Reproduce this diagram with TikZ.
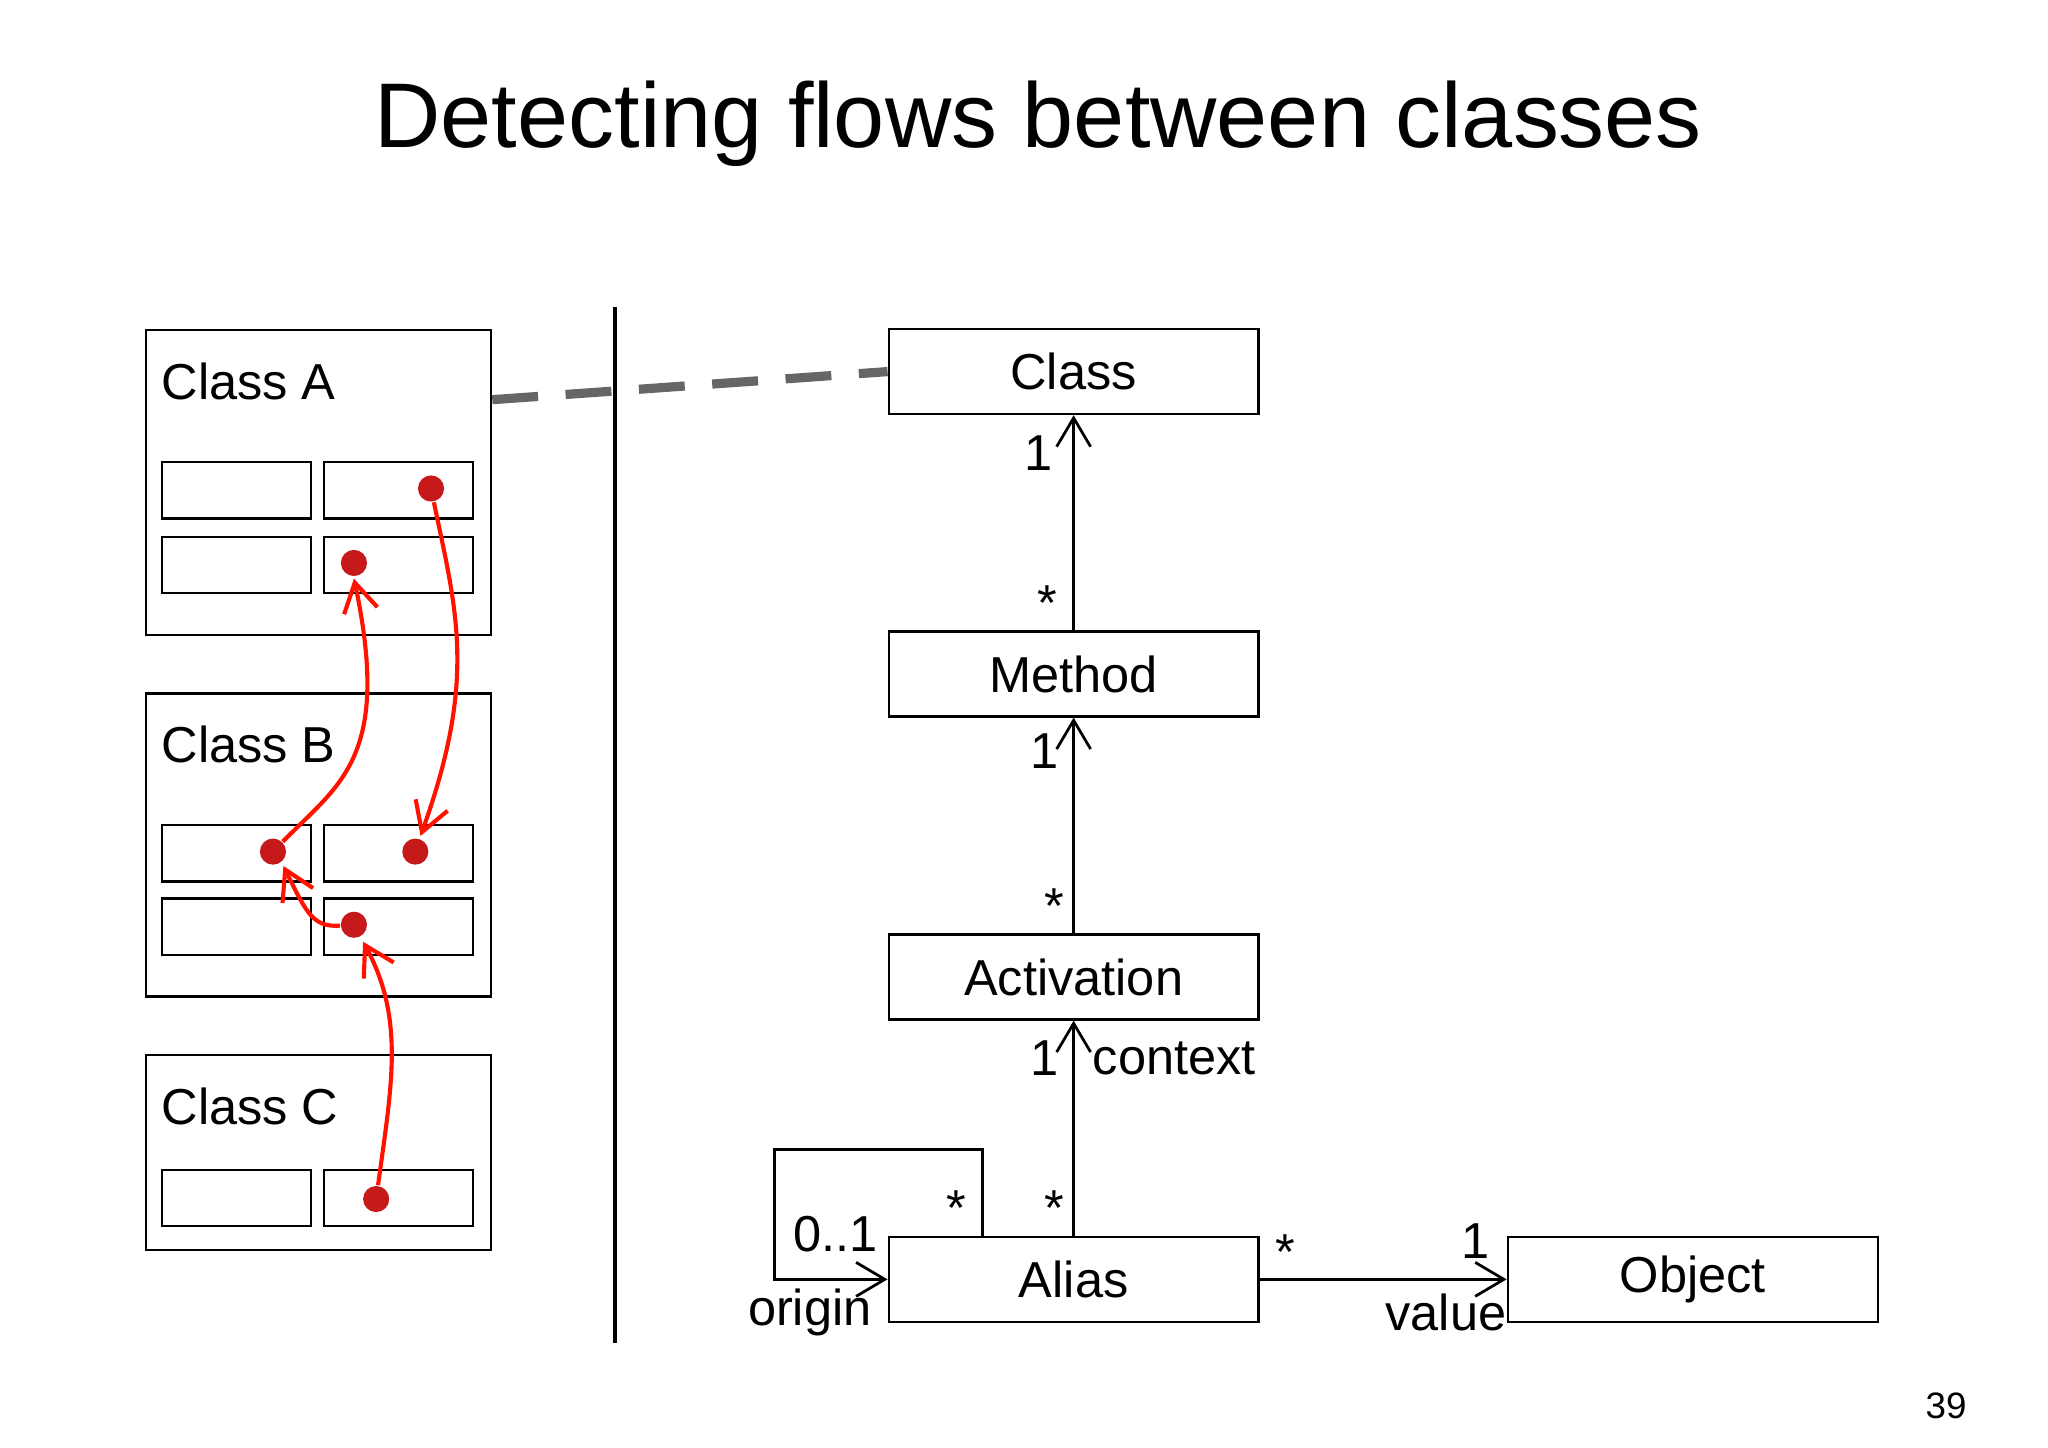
\documentclass[tikz,border=0pt]{standalone}
\usepackage{fontspec}
\setmainfont{Liberation Sans}
\usetikzlibrary{arrows.meta}

\begin{document}
\begin{tikzpicture}[x=0.01cm,y=-0.01cm,font=\fontsize{11}{13}\selectfont]
        % Setup the styles
        \tikzset{cls box/.style={draw, line width=0.5pt, anchor=north west, inner sep=0pt},
                 slot/.style={draw, line width=0.5pt, anchor=north west, inner sep=0pt,
                              minimum width=1.14cm, minimum height=0.43cm},
                 uml/.style={draw, line width=0.5pt, minimum width=2.83cm,
                             minimum height=0.65cm, inner sep=0pt},
                 dot/.style={circle, fill=red!75!black!90, inner sep=0pt, minimum size=0.2cm},
                 flow/.style={draw=red!85!orange, line width=0.9pt,
                              -{Straight Barb[length=2.2mm,width=2.6mm]}},
                 assoc/.style={line width=0.6pt, -{Straight Barb[length=2.2mm,width=2.6mm]}},
                 lbl/.style={inner sep=0pt}}
        \useasboundingbox (0,0) rectangle (1568,1108);

        % Title and page number
        \node[lbl] (title) at (795,95) {\fontsize{20}{24}\selectfont Detecting flows between classes};
        \node[lbl] (page) at (1490,1076) {\fontsize{8}{10}\selectfont 39};

        % Classes on the left
        \node[cls box, minimum width=2.64cm, minimum height=2.33cm] (ca) at (111,252) {};
        \node[cls box, minimum width=2.64cm, minimum height=2.32cm] (cb) at (111,530) {};
        \node[cls box, minimum width=2.64cm, minimum height=1.49cm] (cc) at (111,807) {};
        \node[lbl, anchor=west] (ca label) at (123,292) {Class A};
        \node[lbl, anchor=west] (cb label) at (123,570) {Class B};
        \node[lbl, anchor=west] (cc label) at (123,847) {Class C};

        % Slots
        \node[slot] (a1) at (123,353) {};
        \node[slot] (a2) at (247,353) {};
        \node[slot] (a3) at (123,410) {};
        \node[slot] (a4) at (247,410) {};
        \node[slot] (b1) at (123,631) {};
        \node[slot] (b2) at (247,631) {};
        \node[slot] (b3) at (123,687) {};
        \node[slot] (b4) at (247,687) {};
        \node[slot] (c1) at (123,895) {};
        \node[slot] (c2) at (247,895) {};

        % Values
        \node[dot] (va2) at (330,374) {};
        \node[dot] (va4) at (271,431) {};
        \node[dot] (vb1) at (209,652) {};
        \node[dot] (vb2) at (318,652) {};
        \node[dot] (vb4) at (271,708) {};
        \node[dot] (vc2) at (288,918) {};

        % Flows
        \draw[flow] (va2) .. controls (350,470) and (365,520) .. (322,640);
        \draw[flow] (vb1) .. controls (260,600) and (300,580) .. (271,443);
        \draw[flow] (vb4) .. controls (240,710) and (235,700) .. (217,663);
        \draw[flow] (vc2) .. controls (300,830) and (310,780) .. (278,721);

        % Separator
        \coordinate (sep top) at (471,235);
        \coordinate (sep bottom) at (471,1028);
        \draw[line width=1pt] (sep top) -- (sep bottom);

        % Model
        \node[uml] (class) at (822,284.5) {Class};
        \node[uml] (method) at (822,516) {Method};
        \node[uml] (activation) at (822,748) {Activation};
        \node[uml] (alias) at (822,979.5) {Alias};
        \node[uml] (object) at (1296,979.5) {Object};

        \draw[gray!80!black, line width=2pt, dash pattern=on 10pt off 6pt] (ca.east |- 0,306) -- (class.west);

        \draw[assoc] (method) -- (class);
        \draw[assoc] (activation) -- (method);
        \draw[assoc] (alias) -- (activation);
        \draw[assoc] (alias.north -| 752,0) |- (593,880) |- (alias.west);
        \draw[assoc] (alias) -- (object);

        % Multiplicities
        \node[lbl] at (795,347) {1};
        \node[lbl] at (802,462) {*};
        \node[lbl] at (800,575) {1};
        \node[lbl] at (807,694) {*};
        \node[lbl] at (800,810) {1};
        \node[lbl, anchor=west] at (836,810) {context};
        \node[lbl] at (807,925) {*};
        \node[lbl] at (732,925) {*};
        \node[lbl] at (640,945) {0..1};
        \node[lbl] at (620,1005) {origin};
        \node[lbl] at (984,959) {*};
        \node[lbl] at (1130,950) {1};
        \node[lbl] at (1107,1005) {value};
\end{tikzpicture}
\end{document}
